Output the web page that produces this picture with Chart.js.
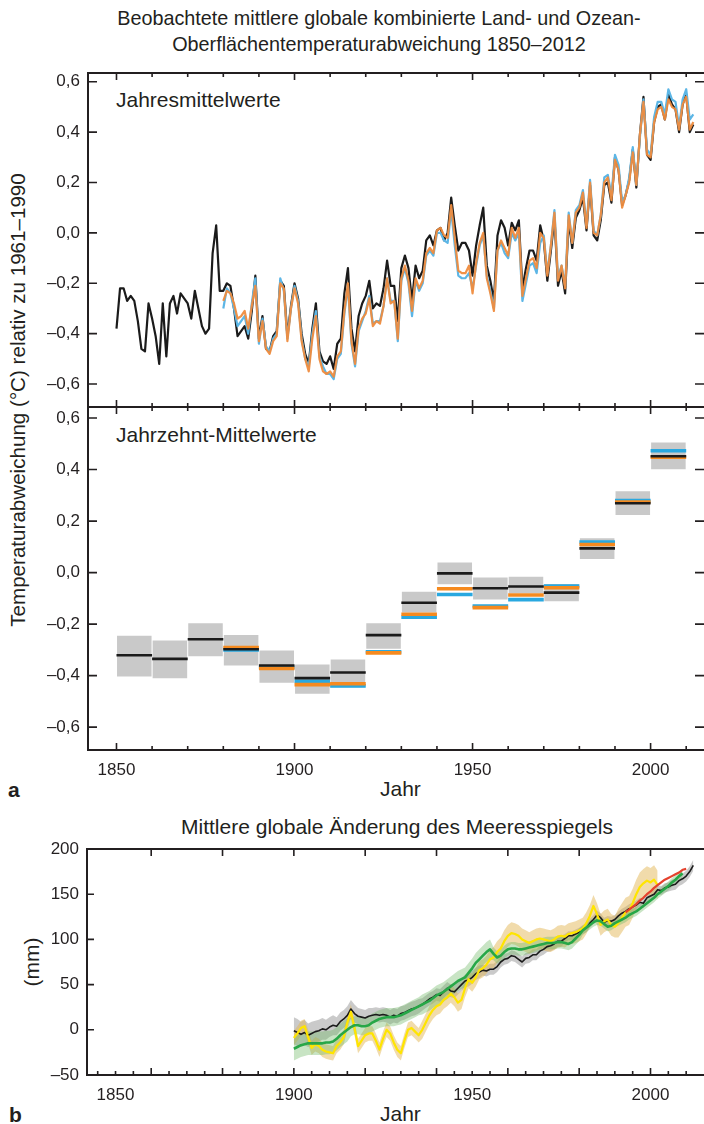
<!doctype html>
<html>
<head>
<meta charset="utf-8">
<title>Temperatur und Meeresspiegel</title>
<script src="https://cdn.jsdelivr.net/npm/chart.js@4.4.0/dist/chart.umd.min.js"></script>
<style>
  html, body { margin: 0; padding: 0; background: #fff; overflow: hidden; }
  body { position: relative; width: 704px; height: 1124px; font-family: "Liberation Sans", Arial, sans-serif; color: #231f20; }
  .txt { position: absolute; white-space: nowrap; font-size: 21px; line-height: 22px; }
  .rot { transform: translate(-50%, -50%) rotate(-90deg); }
  canvas { position: absolute; left: 0; }
</style>
</head>
<body>
<div class="txt" style="left:0;width:758px;top:5px;text-align:center;font-size:19.8px;line-height:26px;">Beobachtete mittlere globale kombinierte Land- und Ozean-<br>Oberflächentemperaturabweichung 1850–2012</div>
<div class="txt rot" style="left:18px;top:400px;font-size:20.6px;">Temperaturabweichung (°C) relativ zu 1961–1990</div>
<div class="txt" style="left:116px;top:89px;">Jahresmittelwerte</div>
<div class="txt" style="left:116px;top:424px;">Jahrzehnt-Mittelwerte</div>
<div class="txt" style="left:380px;top:778px;">Jahr</div>
<div class="txt" style="left:8px;top:779px;font-weight:bold;">a</div>
<div class="txt" style="left:0;width:794px;top:816px;text-align:center;">Mittlere globale Änderung des Meeresspiegels</div>
<div class="txt rot" style="left:32px;top:962px;">(mm)</div>
<div class="txt" style="left:380px;top:1103px;">Jahr</div>
<div class="txt" style="left:9px;top:1104px;font-weight:bold;">b</div>

<canvas id="annual" width="704" height="350" style="top:60px"></canvas>
<canvas id="decadal" width="704" height="400" style="top:400px"></canvas>
<canvas id="sea" width="704" height="284" style="top:840px"></canvas>

<script>
// ---------- a) annual means, anomaly in °C vs 1961-1990
var HAD_START = 1850;
var hadcrut = [
  -0.38,-0.22,-0.22,-0.27,-0.25,-0.27,-0.35,-0.46,-0.47,-0.28,  // 1850
  -0.34,-0.41,-0.52,-0.28,-0.49,-0.28,-0.25,-0.32,-0.24,-0.26,  // 1860
  -0.28,-0.34,-0.23,-0.30,-0.37,-0.40,-0.38,-0.08, 0.03,-0.23,  // 1870
  -0.23,-0.20,-0.21,-0.30,-0.41,-0.39,-0.37,-0.42,-0.31,-0.17,  // 1880
  -0.42,-0.33,-0.46,-0.47,-0.41,-0.39,-0.19,-0.21,-0.41,-0.29,  // 1890
  -0.20,-0.26,-0.40,-0.48,-0.52,-0.38,-0.28,-0.47,-0.51,-0.52,  // 1900
  -0.49,-0.54,-0.44,-0.42,-0.24,-0.14,-0.38,-0.47,-0.33,-0.28,  // 1910
  -0.25,-0.19,-0.30,-0.28,-0.29,-0.22,-0.11,-0.21,-0.21,-0.35,  // 1920
  -0.14,-0.09,-0.14,-0.27,-0.13,-0.18,-0.15,-0.03,-0.01,-0.05,  // 1930
   0.01, 0.02,-0.03, 0.00, 0.14, 0.03,-0.07,-0.04,-0.04,-0.07,  // 1940
  -0.17,-0.05, 0.03, 0.10,-0.13,-0.19,-0.27,-0.01, 0.05, 0.02,  // 1950
  -0.05, 0.04, 0.01, 0.05,-0.22,-0.14,-0.07,-0.07,-0.11, 0.03,  // 1960
  -0.03,-0.19,-0.07, 0.06,-0.21,-0.15,-0.24, 0.05,-0.06, 0.06,  // 1970
   0.09, 0.14, 0.01, 0.19,-0.01,-0.03, 0.05, 0.19, 0.20, 0.12,  // 1980
   0.30, 0.25, 0.11, 0.15, 0.21, 0.33, 0.18, 0.39, 0.54, 0.31,  // 1990
   0.29, 0.44, 0.50, 0.51, 0.45, 0.55, 0.51, 0.49, 0.40, 0.51,  // 2000
   0.55, 0.40, 0.43                                             // 2010
];
var OTHER_START = 1880;
var noaa = [
  -0.27,-0.23,-0.24,-0.28,-0.34,-0.33,-0.31,-0.38,-0.29,-0.21,  // 1880
  -0.43,-0.35,-0.46,-0.48,-0.43,-0.41,-0.20,-0.22,-0.43,-0.30,  // 1890
  -0.22,-0.28,-0.43,-0.50,-0.55,-0.42,-0.33,-0.50,-0.55,-0.56,  // 1900
  -0.55,-0.57,-0.49,-0.47,-0.31,-0.20,-0.43,-0.52,-0.38,-0.34,  // 1910
  -0.32,-0.26,-0.37,-0.35,-0.36,-0.29,-0.18,-0.28,-0.27,-0.42,  // 1920
  -0.18,-0.13,-0.19,-0.31,-0.18,-0.22,-0.19,-0.08,-0.06,-0.08,  // 1930
   0.01, 0.02,-0.01,-0.02, 0.11,-0.02,-0.15,-0.16,-0.16,-0.13,  // 1940
  -0.24,-0.12,-0.04, 0.00,-0.18,-0.24,-0.31,-0.07,-0.03,-0.06,  // 1950
  -0.09, 0.02,-0.02, 0.02,-0.25,-0.18,-0.11,-0.10,-0.14, 0.00,  // 1960
  -0.02,-0.17,-0.05, 0.08,-0.19,-0.13,-0.22, 0.07,-0.04, 0.08,  // 1970
   0.10, 0.16, 0.02, 0.20, 0.00,-0.01, 0.07, 0.20, 0.22, 0.13,  // 1980
   0.29, 0.25, 0.10, 0.15, 0.20, 0.32, 0.19, 0.39, 0.52, 0.31,  // 1990
   0.30, 0.44, 0.49, 0.50, 0.45, 0.53, 0.50, 0.49, 0.41, 0.51,  // 2000
   0.54, 0.41, 0.44                                             // 2010
];
var giss = [
  -0.30,-0.22,-0.24,-0.30,-0.37,-0.35,-0.33,-0.40,-0.28,-0.18,  // 1880
  -0.44,-0.34,-0.45,-0.47,-0.42,-0.40,-0.18,-0.23,-0.42,-0.30,  // 1890
  -0.21,-0.27,-0.42,-0.50,-0.53,-0.40,-0.31,-0.49,-0.53,-0.56,  // 1900
  -0.56,-0.58,-0.50,-0.48,-0.32,-0.21,-0.44,-0.53,-0.39,-0.35,  // 1910
  -0.31,-0.25,-0.36,-0.35,-0.35,-0.29,-0.18,-0.27,-0.27,-0.43,  // 1920
  -0.19,-0.14,-0.20,-0.33,-0.19,-0.23,-0.20,-0.09,-0.07,-0.09,  // 1930
   0.00, 0.00,-0.03,-0.04, 0.09,-0.05,-0.17,-0.18,-0.18,-0.16,  // 1940
  -0.22,-0.13,-0.05,-0.01,-0.17,-0.23,-0.30,-0.07,-0.04,-0.08,  // 1950
  -0.10, 0.00,-0.03, 0.00,-0.27,-0.20,-0.13,-0.12,-0.16,-0.04,  // 1960
  -0.01,-0.16,-0.05, 0.09,-0.18,-0.13,-0.21, 0.08,-0.04, 0.09,  // 1970
   0.11, 0.17, 0.03, 0.21, 0.01,-0.01, 0.07, 0.22, 0.23, 0.15,  // 1980
   0.31, 0.27, 0.12, 0.15, 0.22, 0.34, 0.19, 0.38, 0.53, 0.33,  // 1990
   0.31, 0.46, 0.52, 0.52, 0.47, 0.57, 0.53, 0.52, 0.42, 0.53,  // 2000
   0.57, 0.45, 0.47                                             // 2010
];

// ---------- a) decadal means
var decades    = [1850, 1860, 1870, 1880, 1890, 1900, 1910, 1920, 1930, 1940, 1950, 1960, 1970, 1980, 1990, 2000];
var hadDecade  = [-0.321, -0.335, -0.259, -0.298, -0.361, -0.410, -0.388, -0.243, -0.117, -0.003, -0.061, -0.054, -0.078, 0.094, 0.269, 0.452];
var noaaDecade = [null, null, null, -0.291, -0.372, -0.435, -0.432, -0.312, -0.162, -0.063, -0.136, -0.087, -0.059, 0.109, 0.274, 0.448];
var gissDecade = [null, null, null, -0.300, -0.368, -0.422, -0.440, -0.308, -0.173, -0.085, -0.130, -0.105, -0.052, 0.119, 0.280, 0.473];
var decadeLow  = [-0.404, -0.410, -0.325, -0.361, -0.428, -0.471, -0.445, -0.296, -0.155, -0.045, -0.105, -0.080, -0.111, 0.053, 0.224, 0.401];
var decadeHigh = [-0.245, -0.264, -0.197, -0.242, -0.303, -0.357, -0.338, -0.197, -0.074, 0.039, -0.019, -0.016, -0.044, 0.133, 0.316, 0.505];

var tempTicks = [-0.6, -0.4, -0.2, 0, 0.2, 0.4, 0.6];
var yearLabels = [1850, 1900, 1950, 2000];

// ---------- b) global mean sea level change, mm
var SEA_START = 1900;
var seaBlack = [
  -1, -3, -5, -3, -6, -4, -2, -1,  1,  0,       // 1900
   3,  5,  4,  9, 12, 16, 23, 18, 15, 14,       // 1910
  13, 15, 16, 17, 16, 17, 16, 14, 16, 15,       // 1920
  18, 19, 21, 23, 24, 26, 28, 31, 34, 36,       // 1930
  39, 38, 42, 46, 43, 42, 46, 50, 54, 55,       // 1940
  58, 62, 64, 66, 65, 67, 67, 70, 75, 78,       // 1950
  79, 82, 81, 78, 75, 79, 80, 83, 83, 87,       // 1960
  89, 92, 93, 95, 98, 98,101,104,104,106,       // 1970
 108,111,113,118,122,127,124,119,121,120,       // 1980
 122,126,129,131,134,136,138,141,140,146,       // 1990
 148,150,155,154,157,158,160,161,165,167,       // 2000
 170,175,182                                    // 2010
];
var seaBlackUnc = [
  15,15,14,14,13,13,12,12,12,11,
  11,11,10,10,10,10,10,10, 9, 9,
   9, 9, 8, 8, 8, 8, 8, 8, 8, 8,
   8, 8, 8, 8, 8, 8, 7, 7, 7, 7,
   7, 7, 7, 7, 7, 7, 7, 7, 7, 7,
   7, 7, 7, 6, 6, 6, 6, 6, 6, 6,
   6, 6, 6, 6, 6, 6, 6, 6, 6, 6,
   6, 6, 6, 6, 6, 6, 5, 5, 5, 5,
   5, 5, 5, 5, 5, 5, 5, 5, 5, 5,
   5, 5, 5, 5, 5, 5, 5, 5, 5, 5,
   5, 5, 5, 5, 5, 5, 6, 6, 6, 6,
   6, 6, 6
];
var seaYellow = [
  -9, -4,  2,  4, -8,-20,-16,-18,-22,-24,       // 1900
 -25,-26,-18,-14, -8,  8, 20,  2,-18,-12,       // 1910
  -6, -4, -4,-12,-22,-10,  0, -4,-14,-22,       // 1920
 -26,-12,  0,  2, -2, -6,  0,  8, 16, 22,       // 1930
  26, 28, 33, 36, 40, 36, 30, 33, 46, 56,       // 1940
  52, 58, 66, 68, 72, 78, 80, 86, 90, 98,       // 1950
 104,107,106,104,100, 98, 96, 98,100,101,       // 1960
 100, 99, 98,100,103,104,103,106,107,108,       // 1970
 110,112,118,126,137,128,116,120,122,116,       // 1980
 114,118,124,130,132,140,150,158,162,165,       // 1990
 163,166,160                                    // 2000
];
var seaYellowUnc = [
   8, 8, 8, 8, 8, 8, 8, 8, 8, 8,
   8, 8, 8, 8, 8, 8, 8, 8, 8, 8,
   8, 8, 8, 8, 8, 8, 8, 8, 8, 8,
   8, 8, 8, 8, 8, 8,10,10,10,10,
  10,10,10,10,10,10,10,10,10,10,
  10,10,10,10,10,10,12,12,12,12,
  12,12,12,12,12,12,12,12,12,12,
  12,12,12,12,12,12,12,12,12,12,
  12,12,12,12,12,12,12,12,12,12,
  12,16,16,16,16,16,16,16,16,16,
  16,16,16
];
var seaGreen = [
 -21,-19,-17,-16,-15,-15,-15,-15,-15,-14,       // 1900
 -14,-13,-10, -6, -3,  0,  3,  5,  5,  4,       // 1910
   4,  5,  8, 10, 12, 13, 14, 14, 14, 15,       // 1920
  16, 18, 20, 22, 24, 26, 28, 30, 32, 35,       // 1930
  38, 40, 42, 45, 48, 51, 54, 56, 58, 63,       // 1940
  68, 74, 78, 82, 86, 89, 84, 80, 82, 86,       // 1950
  89, 90, 90, 89, 89, 90, 91, 92, 93, 94,       // 1960
  95, 96, 96, 96, 97, 97, 96, 95, 97,101,       // 1970
 105,110,113,116,119,121,120,117,114,115,       // 1980
 118,120,122,124,127,129,131,134,137,140,       // 1990
 143,146,150,153,156,159,163,166,170,173        // 2000
];
var seaGreenUnc = [
  13,13,13,13,13,13,13,13,13,13,
  13,13,13,13,13,13,10,10,10,10,
  10,10,10,10,10,10,10,10,10,10,
  10,10,10,10,10,10,11,11,11,11,
  11,11,11,11,11,11,11,11,11,11,
  11,11,11,11,11,11, 7, 7, 7, 7,
   7, 7, 7, 7, 7, 7, 7, 7, 7, 7,
   7, 7, 7, 7, 7, 7, 7, 7, 7, 7,
   7, 5, 5, 5, 5, 5, 5, 5, 5, 5,
   5, 5, 5, 5, 5, 5, 5, 5, 5, 5,
   5, 5, 5, 5, 5, 5, 5, 5, 5, 5
];
var RED_START = 1993;
var seaRed = [130, 133, 136, 139, 143, 146, 150, 153, 157, 160, 163, 166, 168, 170, 172, 174, 177, 178];

var seaTicks = [-50, 0, 50, 100, 150, 200];

// ---------- helpers
var FONT = '"Liberation Sans", Arial, sans-serif';
var INK = '#231f20';
var X_MIN = 1842, X_MAX = 2015;

Chart.defaults.font.family = FONT;
Chart.defaults.color = INK;

function series(start, vals) {
  return vals.map(function (v, i) { return { x: start + i, y: v }; });
}
function shifted(start, vals, unc, sign) {
  return vals.map(function (v, i) { return { x: start + i, y: v + sign * unc[i] }; });
}
function segments(vals) {
  var pts = [];
  decades.forEach(function (d, i) {
    if (vals[i] === null) return;
    pts.push({ x: d, y: vals[i] }, { x: d + 10, y: vals[i] }, { x: d + 10, y: null });
  });
  return pts;
}
function steps(a, b, step) {
  var out = [];
  for (var v = a; v <= b; v += step) out.push(v);
  return out;
}
function fmtTemp(v) {
  var s = Math.abs(v).toFixed(1).replace('.', ',');
  return v < -1e-9 ? '–' + s : s;
}
function fmtSea(v) {
  return v < 0 ? '–' + Math.abs(v) : String(v);
}

// frame + inward ticks drawn on top of the plot
function framePlugin(cfg) {
  return {
    id: 'frame',
    afterDraw: function (chart) {
      var ctx = chart.ctx, a = chart.chartArea;
      var xs = chart.scales.x, ys = chart.scales.y;
      ctx.save();
      ctx.strokeStyle = INK;
      ctx.lineWidth = 2;
      ctx.beginPath();
      if (cfg.top) { ctx.moveTo(a.left - 1, a.top); ctx.lineTo(a.right, a.top); }
      if (cfg.bottom) { ctx.moveTo(a.left - 1, a.bottom); ctx.lineTo(a.right, a.bottom); }
      ctx.moveTo(a.left, a.top - 1); ctx.lineTo(a.left, a.bottom + 1);
      ctx.stroke();
      ctx.lineWidth = 1.6;
      ctx.beginPath();
      cfg.xTicks.forEach(function (t) {
        t.values.forEach(function (v) {
          var px = xs.getPixelForValue(v);
          if (t.top) { ctx.moveTo(px, a.top); ctx.lineTo(px, a.top + t.len); }
          if (t.bottom) { ctx.moveTo(px, a.bottom); ctx.lineTo(px, a.bottom - t.len); }
        });
      });
      cfg.yTicks.forEach(function (t) {
        t.values.forEach(function (v) {
          var py = ys.getPixelForValue(v);
          if (t.left) { ctx.moveTo(a.left, py); ctx.lineTo(a.left + t.len, py); }
          if (t.right) { ctx.moveTo(a.right, py); ctx.lineTo(a.right - t.len, py); }
        });
      });
      ctx.stroke();
      ctx.restore();
    }
  };
}

function scalesFor(o) {
  return {
    x: {
      type: 'linear', min: X_MIN, max: X_MAX, offset: false, display: o.showX,
      grid: { display: false, drawTicks: false }, border: { display: false },
      ticks: { font: { size: 17 }, color: INK, padding: 10, maxRotation: 0, autoSkip: false,
               callback: function (v) { return String(v); } },
      afterBuildTicks: function (s) { s.ticks = yearLabels.map(function (v) { return { value: v }; }); },
      afterFit: function (s) { s.height = o.xHeight; s.paddingLeft = 0; s.paddingRight = 0; }
    },
    y: {
      type: 'linear', min: o.ymin, max: o.ymax,
      grid: { display: false, drawTicks: false }, border: { display: false },
      ticks: { font: { size: 17 }, color: INK, padding: 8, callback: o.fmt },
      afterBuildTicks: function (s) { s.ticks = o.ticks.map(function (v) { return { value: v }; }); },
      afterFit: function (s) { s.width = o.yWidth; s.paddingTop = 0; s.paddingBottom = 0; }
    }
  };
}

function baseOptions(o) {
  return {
    responsive: false,
    animation: false,
    layout: { padding: o.pad },
    elements: { point: { radius: 0 }, line: { tension: 0, borderJoinStyle: 'round', fill: false } },
    plugins: { legend: { display: false }, tooltip: { enabled: false } },
    events: [],
    scales: scalesFor(o)
  };
}

var decadeTicks = steps(1850, 2010, 10);
var halfCentury = [1850, 1900, 1950, 2000];

// ---------- chart 1: annual means
new Chart(document.getElementById('annual'), {
  type: 'line',
  data: {
    datasets: [
      { label: 'NOAA', data: series(OTHER_START, noaa), borderColor: 'rgba(239,140,62,0.95)', borderWidth: 2.2, order: 1 },
      { label: 'GISS', data: series(OTHER_START, giss), borderColor: '#5cb6e6', borderWidth: 2.2, order: 2 },
      { label: 'HadCRUT4', data: series(HAD_START, hadcrut), borderColor: '#1b1b1b', borderWidth: 2.2, order: 3 }
    ]
  },
  options: baseOptions({ showX: false, xHeight: 0, ymin: -0.691, ymax: 0.6345, ticks: tempTicks, fmt: fmtTemp, yWidth: 88, pad: { top: 13, bottom: 3, left: 0, right: 0 } }),
  plugins: [framePlugin({
    top: true, bottom: true,
    xTicks: [
      { values: decadeTicks, len: 4, top: true, bottom: true },
      { values: halfCentury, len: 7, top: true, bottom: true }
    ],
    yTicks: [{ values: tempTicks, len: 9, left: true, right: true }]
  })]
});

// ---------- chart 2: decadal means
new Chart(document.getElementById('decadal'), {
  type: 'bar',
  data: {
    datasets: [
      { type: 'line', label: 'HadCRUT4', data: segments(hadDecade), borderColor: '#1b1b1b', borderWidth: 2.6, borderCapStyle: 'butt', spanGaps: false, order: 1 },
      { type: 'line', label: 'NOAA', data: segments(noaaDecade), borderColor: '#f58a1f', borderWidth: 3.6, borderCapStyle: 'butt', spanGaps: false, order: 2 },
      { type: 'line', label: 'GISS', data: segments(gissDecade), borderColor: '#29a8e0', borderWidth: 3.6, borderCapStyle: 'butt', spanGaps: false, order: 3 },
      {
        type: 'bar', label: 'Unsicherheit',
        data: decades.map(function (d, i) { return { x: d + 5, y: [decadeLow[i], decadeHigh[i]] }; }),
        backgroundColor: '#c9c9c9', borderWidth: 0, barPercentage: 0.97, categoryPercentage: 1, order: 4
      }
    ]
  },
  options: baseOptions({ showX: true, xHeight: 50, ymin: -0.689, ymax: 0.643, ticks: tempTicks, fmt: fmtTemp, yWidth: 88, pad: { top: 7, bottom: 0, left: 0, right: 0 } }),
  plugins: [framePlugin({
    top: true, bottom: true,
    xTicks: [
      { values: decadeTicks, len: 4, top: true, bottom: true },
      { values: halfCentury, len: 7, top: true, bottom: true }
    ],
    yTicks: [{ values: tempTicks, len: 9, left: true, right: true }]
  })]
});

// ---------- chart 3: sea level
new Chart(document.getElementById('sea'), {
  type: 'line',
  data: {
    datasets: [
      { label: 'grau oben', data: shifted(SEA_START, seaBlack, seaBlackUnc, 1), borderColor: 'rgba(0,0,0,0)', backgroundColor: 'rgba(150,150,150,0.5)', fill: '+1', order: 10 },
      { label: 'grau unten', data: shifted(SEA_START, seaBlack, seaBlackUnc, -1), borderColor: 'rgba(0,0,0,0)', order: 10 },
      { label: 'gelb oben', data: shifted(SEA_START, seaYellow, seaYellowUnc, 1), borderColor: 'rgba(0,0,0,0)', backgroundColor: 'rgba(228,184,88,0.5)', fill: '+1', order: 9 },
      { label: 'gelb unten', data: shifted(SEA_START, seaYellow, seaYellowUnc, -1), borderColor: 'rgba(0,0,0,0)', order: 9 },
      { label: 'grün oben', data: shifted(SEA_START, seaGreen, seaGreenUnc, 1), borderColor: 'rgba(0,0,0,0)', backgroundColor: 'rgba(110,185,100,0.38)', fill: '+1', order: 8 },
      { label: 'grün unten', data: shifted(SEA_START, seaGreen, seaGreenUnc, -1), borderColor: 'rgba(0,0,0,0)', order: 8 },
      { label: 'schwarz', data: series(SEA_START, seaBlack), borderColor: '#1b1b1b', borderWidth: 1.6, order: 4 },
      { label: 'gelb', data: series(SEA_START, seaYellow), borderColor: '#ffe500', borderWidth: 2.2, order: 3 },
      { label: 'grün', data: series(SEA_START, seaGreen), borderColor: '#27a747', borderWidth: 2.6, order: 2 },
      { label: 'rot', data: series(RED_START, seaRed), borderColor: '#e5412d', borderWidth: 2.2, order: 1 }
    ]
  },
  options: baseOptions({ showX: true, xHeight: 49, ymin: -50, ymax: 200, ticks: seaTicks, fmt: fmtSea, yWidth: 87, pad: { top: 9, bottom: 0, left: 0, right: 0 } }),
  plugins: [framePlugin({
    top: true, bottom: true,
    xTicks: [
      { values: steps(1845, 2010, 5), len: 4, top: false, bottom: true },
      { values: steps(1860, 2000, 20), len: 7, top: true, bottom: true }
    ],
    yTicks: [{ values: seaTicks, len: 7, left: true, right: false }]
  })]
});
</script>
</body>
</html>
